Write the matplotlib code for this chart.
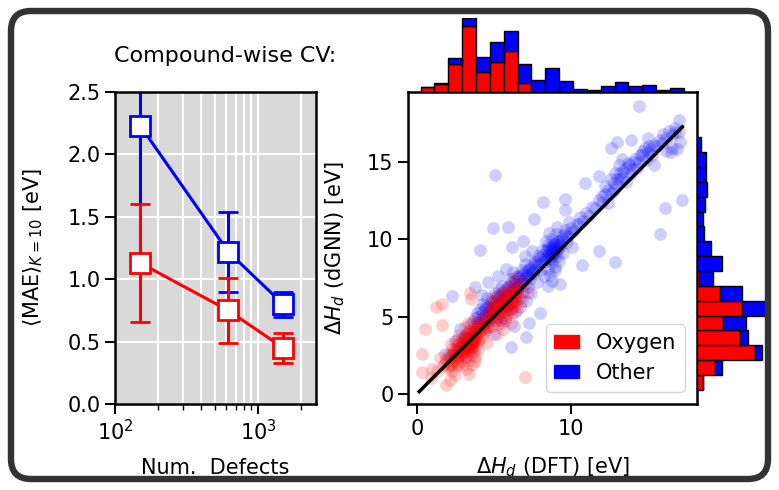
import matplotlib
matplotlib.use("Agg")
import matplotlib.pyplot as plt
from matplotlib.patches import Patch, FancyBboxPatch

plt.rcParams['font.family'] = ['DejaVu Sans']
plt.rcParams['font.size'] = 15

# ---- left panel: compound-wise CV ----
n_defects = [150, 620, 1500]
mae_other = [2.23, 1.22, 0.80]
err_other = [1.10, 0.32, 0.10]
mae_oxygen = [1.13, 0.75, 0.45]
err_oxygen = [0.47, 0.26, 0.12]

# ---- right panel: parity scatter ----
ox_x = [0.3, 0.3, 0.5, 0.9, 1.0,
        1.25, 1.6, 1.6, 1.9, 1.3, 1.8, 1.5, 2.0,
        2.1, 2.2, 2.3, 2.4, 2.5, 2.6, 2.7, 2.8, 2.9, 2.3, 2.5, 2.6, 2.7, 2.8, 2.9, 2.2, 2.4, 2.6, 2.85, 2.75, 2.15,
        3.0, 3.0, 3.05, 3.1, 3.1, 3.15, 3.2, 3.2, 3.25, 3.3, 3.3, 3.35, 3.4, 3.4, 3.45, 3.5, 3.5, 3.5, 3.55, 3.6,
        3.6, 3.6, 3.65, 3.7, 3.7, 3.7, 3.75, 3.8, 3.8, 3.8, 3.0, 3.1, 3.2, 3.3, 3.4, 3.5, 3.45, 3.55, 3.65, 3.75,
        3.2, 3.3, 3.4, 3.5, 3.6, 3.0, 3.15, 3.7,
        3.9, 3.95, 4.0, 4.1, 4.15, 4.2, 4.3, 4.35, 4.4, 4.5, 4.55, 4.6, 4.65, 4.7, 4.0,
        4.8, 4.85, 4.9, 5.0, 5.0, 5.05, 5.1, 5.15, 5.2, 5.25, 5.3, 5.3, 5.35, 5.4, 5.45, 5.5, 5.5, 5.55, 5.6, 5.6,
        4.9, 5.2,
        5.7, 5.7, 5.75, 5.8, 5.8, 5.85, 5.9, 5.9, 5.95, 6.0, 6.0, 6.05, 6.1, 6.1, 6.15, 6.2, 6.2, 6.25, 6.3, 6.3,
        6.35, 6.4, 6.4, 6.45, 6.5, 6.5, 5.75, 6.1, 6.3,
        6.6, 6.7, 6.8, 6.9, 7.0, 7.2]
ox_y = [2.6, 1.4, 4.2, 1.0, 1.6,
        5.6, 5.8, 4.45, 0.6, 1.5, 2.0, 2.3, 1.7,
        2.4, 1.9, 2.9, 2.2, 2.6, 3.1, 2.4, 2.8, 3.3, 1.5, 1.2, 3.5, 1.9, 2.1, 2.6, 3.2, 2.7, 2.0, 3.0, 3.8, 0.9,
        3.1, 2.6, 3.5, 2.9, 3.8, 2.4, 3.3, 2.7, 3.9, 3.0, 3.6, 2.2, 3.4, 2.8, 4.1, 3.2, 3.7, 2.5, 3.0, 3.5,
        4.0, 2.9, 3.3, 3.8, 2.7, 4.4, 3.1, 3.6, 4.2, 2.4, 1.9, 4.3, 1.6, 4.6, 1.3, 6.1, 6.5, 1.9, 4.7, 2.1,
        3.0, 3.3, 3.1, 3.5, 3.2, 3.4, 3.6, 3.4,
        3.9, 4.4, 3.5, 4.8, 4.1, 3.7, 4.5, 5.0, 4.0, 4.7, 3.3, 5.2, 4.3, 5.6, 2.9,
        4.9, 5.4, 4.4, 5.1, 5.8, 4.7, 5.5, 6.0, 5.0, 4.5, 5.6, 6.3, 5.2, 4.8, 5.9, 5.4, 6.5, 5.0, 5.7, 4.2,
        6.2, 3.9,
        5.9, 5.3, 6.4, 5.6, 6.8, 5.1, 6.1, 5.7, 6.6, 5.9, 6.3, 5.4, 6.0, 6.9, 5.6, 6.4, 5.2, 6.7, 5.9, 6.2,
        7.2, 5.7, 6.5, 6.0, 6.8, 5.4, 4.8, 4.6, 7.5,
        6.3, 6.9, 6.0, 7.3, 1.1, 6.6]
# dense oxygen core along the diagonal
ox_core_x = [1.7, 1.9, 2.0, 2.1, 2.2, 2.3, 2.35, 2.45, 2.5, 2.55, 2.65, 2.7, 2.75, 2.8, 2.9, 2.95, 3.0, 3.05,
             3.1, 3.15, 3.2, 3.25, 3.3, 3.35, 3.4, 3.45, 3.5, 3.55, 3.6, 3.65, 3.7, 3.75, 3.8, 3.85, 3.9, 4.0,
             4.1, 4.2, 4.3, 4.4, 4.5, 4.6, 4.7, 4.8, 4.9, 5.0, 5.1, 5.2, 5.3, 5.4, 5.5, 5.6, 5.7, 5.8, 5.9,
             6.0, 6.1, 6.2, 6.3, 6.4, 6.5, 6.6, 5.55, 5.65, 5.25, 5.85, 6.05, 4.95, 4.45, 3.95]
ox_core_y = [1.9, 2.2, 2.5, 1.8, 2.3, 2.0, 2.6, 2.3, 2.9, 2.5, 2.7, 3.2, 2.5, 3.0, 2.8, 3.2, 2.8, 3.0,
             3.3, 3.1, 3.5, 2.9, 3.2, 3.5, 3.7, 3.3, 3.9, 3.6, 3.7, 4.0, 3.5, 3.9, 4.0, 3.7, 4.2, 4.0,
             4.3, 4.4, 4.2, 4.6, 4.4, 4.9, 4.7, 5.2, 5.0, 5.4, 5.2, 5.6, 5.4, 5.8, 5.6, 6.0, 5.8, 6.2, 6.0,
             6.5, 6.2, 6.0, 6.6, 6.3, 6.5, 6.8, 5.3, 6.3, 5.9, 5.4, 5.8, 5.6, 4.1, 3.4]

oth_x = [1.8,
         2.3, 2.5, 2.7, 2.9, 2.2, 2.8,
         3.75, 3.1, 3.3, 3.5, 3.6, 3.8, 3.2,
         4.07, 4.6, 3.9, 4.0, 4.1, 4.2, 4.3, 4.35, 4.4, 4.5, 4.55, 4.6, 4.7, 4.2,
         5.08, 4.94, 4.8, 4.9, 5.0, 5.05, 5.1, 5.2, 5.25, 5.3, 5.35, 5.4, 5.45, 5.5, 5.55, 5.6, 5.3, 5.0,
         5.9, 6.2, 5.8, 6.1, 5.7, 5.8, 5.9, 6.0, 6.05, 6.1, 6.2, 6.25, 6.3, 6.35, 6.4, 6.45, 6.5, 5.75, 6.3,
         6.9, 7.3, 7.1, 6.6, 6.65, 6.7, 6.8, 6.85, 6.9, 7.0, 7.05, 7.1, 7.15, 7.2, 7.3, 7.35, 7.4, 6.7, 7.0,
         8.18, 7.6, 8.0, 7.5, 7.55, 7.7, 7.8, 7.9, 8.0, 8.1, 8.25,
         8.4, 8.45, 8.5, 8.55, 8.6, 8.65, 8.7, 8.75, 8.8, 8.85, 8.9, 8.95, 9.0, 9.05, 9.1, 9.15, 9.2, 8.4, 8.6,
         8.8, 9.0, 9.1, 8.5,
         9.6, 9.6, 9.3, 9.3, 9.4, 9.5, 9.65, 9.75, 9.85, 9.95, 10.05,
         10.7, 10.9, 10.5,
         11.8, 11.8,
         12.6, 12.0, 12.2, 12.4, 12.6, 12.8,
         13.0, 12.9, 12.9, 13.0, 13.1, 13.2, 13.3, 13.4, 13.6, 13.7,
         13.9, 14.4, 13.9, 14.1, 14.3, 14.5,
         14.7, 14.9, 15.1, 15.3, 15.4, 15.0,
         16.1, 15.8, 15.9, 16.2,
         17.0, 17.2, 16.8, 17.1, 16.6]
oth_y = [2.6,
         6.3, 3.4, 2.9, 3.6, 2.5, 4.2,
         6.9, 3.7, 4.0, 4.5, 3.0, 4.9, 2.4,
         9.3, 7.2, 5.2, 4.6, 5.5, 4.9, 5.8, 4.3, 5.1, 5.6, 6.2, 4.7, 5.3, 6.4,
         14.15, 10.7, 5.5, 6.0, 5.3, 6.5, 4.8, 5.7, 6.2, 5.0, 6.8, 5.5, 6.1, 4.6, 7.0, 5.9, 7.6, 3.9,
         10.8, 9.5, 8.1, 3.05, 6.3, 5.7, 6.9, 6.2, 7.4, 5.5, 6.7, 7.9, 6.0, 7.1, 5.3, 6.6, 7.6, 4.9, 4.4,
         9.9, 4.6, 3.7, 6.9, 7.6, 6.2, 7.3, 8.0, 6.6, 7.1, 8.4, 6.0, 7.7, 6.9, 8.1, 7.4, 6.5, 5.6, 8.9,
         12.4, 11.3, 5.2, 9.2, 7.8, 8.5, 7.2, 8.9, 8.0, 9.3, 7.6,
         8.6, 9.2, 8.1, 9.6, 8.8, 7.7, 9.3, 10.0, 8.5, 9.0, 9.7, 8.2, 9.4, 10.3, 8.9, 9.9, 8.6, 9.9, 10.4,
         7.3, 8.0, 10.8, 7.0,
         12.6, 11.85, 7.1, 9.6, 10.2, 9.1, 10.6, 9.8, 11.1, 10.4, 9.5,
         8.3, 13.6, 11.0,
         14.1, 9.2,
         15.9, 12.8, 13.4, 12.3, 13.9, 13.2,
         16.3, 8.5, 14.3, 13.5, 14.8, 13.9, 15.2, 14.4, 13.7, 14.9,
         16.4, 18.6, 14.2, 15.0, 14.6, 15.4,
         15.7, 15.1, 16.0, 15.4, 14.8, 16.5,
         12.0, 10.3, 16.2, 15.7,
         17.7, 12.5, 16.9, 16.3, 15.9]
# dense "other" core, sitting slightly above the diagonal
oth_core_x = [3.9, 4.0, 4.1, 4.2, 4.3, 4.4, 4.5, 4.6, 4.7, 4.8, 4.9, 5.0, 5.1, 5.2, 5.3, 5.4, 5.5, 5.6, 5.7,
              5.8, 5.9, 6.0, 6.1, 6.2, 6.3, 6.4, 6.5, 6.6, 6.7, 6.8, 6.9, 7.0, 7.1, 7.2, 7.3, 7.4, 7.5, 7.6,
              7.7, 7.8, 7.9, 8.0, 8.1, 8.2, 8.3, 8.4, 8.5, 8.6, 8.7, 8.8, 8.9, 9.0, 9.1, 9.2, 9.3, 9.4,
              8.6, 8.8, 9.0, 8.7, 8.9, 9.2,
              9.6, 9.8, 10.0, 10.2, 10.4, 10.6, 10.8, 11.0, 11.2, 11.4, 11.6, 11.8, 12.0, 12.2, 12.4, 12.6,
              12.8, 13.0, 13.2, 13.4, 13.6, 13.8, 14.0, 14.2, 14.4, 14.6, 14.8, 15.0, 15.2, 15.4, 15.6, 15.8,
              16.0, 16.2, 16.4, 16.6, 16.8, 17.0, 16.5, 16.9]
oth_core_y = [4.6, 5.0, 4.5, 5.3, 4.8, 5.5, 5.0, 5.6, 5.1, 5.9, 5.3, 6.0, 5.6, 6.3, 5.8, 6.4, 6.0, 6.6, 6.1,
              6.7, 6.4, 7.0, 6.6, 7.2, 6.8, 7.3, 6.9, 7.5, 7.1, 7.7, 7.3, 7.9, 7.5, 8.0, 7.7, 8.2, 7.9, 8.4,
              8.1, 8.6, 8.3, 8.8, 8.5, 9.0, 8.7, 9.3, 8.9, 9.4, 9.0, 9.6, 9.2, 9.7, 9.3, 9.9, 9.5, 10.0,
              9.1, 9.3, 9.1, 8.7, 9.5, 9.6,
              10.3, 10.2, 10.7, 10.5, 11.0, 11.4, 11.2, 11.7, 11.5, 12.1, 12.0, 12.5, 12.4, 12.9, 13.2, 13.0,
              13.6, 13.9, 14.3, 14.0, 14.6, 14.8, 14.5, 15.2, 15.0, 15.4, 15.9, 15.6, 15.8, 16.1, 16.0, 16.4,
              16.8, 16.5, 17.0, 16.7, 17.2, 16.9, 15.6, 15.8]

parity = [0.15, 17.25]

# marginal histograms (bin counts)
top_start, top_width = 0.24, 0.9
top_oxygen = [14, 25, 83, 198, 61, 91, 121, 26, 0, 0, 0, 0, 0, 0, 0, 0, 0, 0, 0]
top_other = [0, 3, 18, 23, 45, 57, 60, 59, 35, 73, 33, 10, 7, 19, 30, 18, 20, 6, 11]
side_start, side_width = 0.26, 0.96
side_oxygen = [19, 55, 174, 129, 79, 134, 69, 5, 0, 0, 0, 0, 0, 0, 0, 0, 0]
side_other = [0, 19, 21, 23, 68, 73, 65, 44, 74, 42, 20, 17, 24, 29, 26, 27, 12]

W, H = 779, 490
fig = plt.figure(figsize=(W / 100, H / 100), dpi=100)


def box(x0, y0, x1, y1):
    return [x0 / W, 1 - y1 / H, (x1 - x0) / W, (y1 - y0) / H]


# left panel
ax = fig.add_axes(box(115, 92, 316, 404))
ax.set_facecolor('#d9d9d9')
ax.set_xscale('log')
ax.grid(True, which='both', axis='x', color='white', lw=1.5)
ax.grid(True, which='major', axis='y', color='white', lw=1.5)
ax.set_axisbelow(True)
for mae, err, c in [(mae_other, err_other, 'blue'), (mae_oxygen, err_oxygen, 'red')]:
    ax.errorbar(n_defects, mae, yerr=err, color=c, lw=2.2, capsize=7, capthick=2.4,
                marker='s', ms=14, mfc='white', mec=c, mew=2)
ax.set_xlim(100, 2550)
ax.set_ylim(0, 2.5)
ax.set_yticks([0, 0.5, 1.0, 1.5, 2.0, 2.5])
ax.tick_params(which='major', length=7, width=1.4)
ax.tick_params(which='minor', length=4, width=1)
for s in ax.spines.values():
    s.set_linewidth(1.8)
ax.set_xlabel('Num.  Defects')
ax.xaxis.set_label_coords(0.5, -0.173)
ax.xaxis.label.set_va('top')
ax.set_ylabel(r'$\langle\mathrm{MAE}\rangle_{K=10}$ [eV]')
ax.yaxis.set_label_coords(-0.35, 0.5)
fig.text(225 / W, 1 - 56 / H, 'Compound-wise CV:', ha='center', va='center', fontsize=16)

# parity scatter
xlim, ylim = (-0.58, 18.2), (-0.65, 19.5)
axs = fig.add_axes(box(408, 92, 697, 404))
axs.scatter(oth_x + oth_core_x, oth_y + oth_core_y, s=85, color='blue', alpha=0.19, lw=0)
axs.scatter(ox_x + ox_core_x, ox_y + ox_core_y, s=85, color='red', alpha=0.19, lw=0)
axs.plot(parity, parity, color='black', lw=2.5)
axs.set_xlim(xlim)
axs.set_ylim(ylim)
axs.set_xticks([0, 10])
axs.set_yticks([0, 5, 10, 15])
axs.tick_params(length=7, width=1.4)
for s in axs.spines.values():
    s.set_linewidth(1.8)
axs.set_xlabel(r'$\Delta H_d$ (DFT) [eV]')
axs.xaxis.set_label_coords(0.5, -0.165)
axs.xaxis.label.set_va('top')
axs.set_ylabel(r'$\Delta H_d$ (dGNN) [eV]')
axs.yaxis.set_label_coords(-0.21, 0.5)
axs.legend(handles=[Patch(color='red', label='Oxygen'), Patch(color='blue', label='Other')],
           loc='lower right', fontsize=15, handlelength=1.2, handleheight=0.6, borderaxespad=0.6)

# top histogram
axt = fig.add_axes(box(408, 18, 697, 92))
top_left = [top_start + i * top_width for i in range(len(top_oxygen))]
axt.bar(top_left, top_oxygen, width=top_width, align='edge', color='red', edgecolor='black', lw=1)
axt.bar(top_left, top_other, width=top_width, bottom=top_oxygen, align='edge',
        color='blue', edgecolor='black', lw=1)
axt.set_xlim(xlim)
axt.set_ylim(0, max(a + b for a, b in zip(top_oxygen, top_other)))
axt.axis('off')

# side histogram
axr = fig.add_axes(box(697, 92, 766, 404))
side_low = [side_start + i * side_width for i in range(len(side_oxygen))]
axr.barh(side_low, side_oxygen, height=side_width, align='edge', color='red', edgecolor='black', lw=1)
axr.barh(side_low, side_other, height=side_width, left=side_oxygen, align='edge',
         color='blue', edgecolor='black', lw=1)
axr.set_ylim(ylim)
axr.set_xlim(0, max(a + b for a, b in zip(side_oxygen, side_other)))
axr.axis('off')

# screenshot frame
frame = FancyBboxPatch((0.11, 0.11), W / 100 - 0.22, H / 100 - 0.22,
                       boxstyle='round,pad=0,rounding_size=0.2', transform=fig.dpi_scale_trans,
                       fill=False, edgecolor='#333333', lw=4.6)
fig.patches.append(frame)

fig.savefig('out.png', dpi=100)
